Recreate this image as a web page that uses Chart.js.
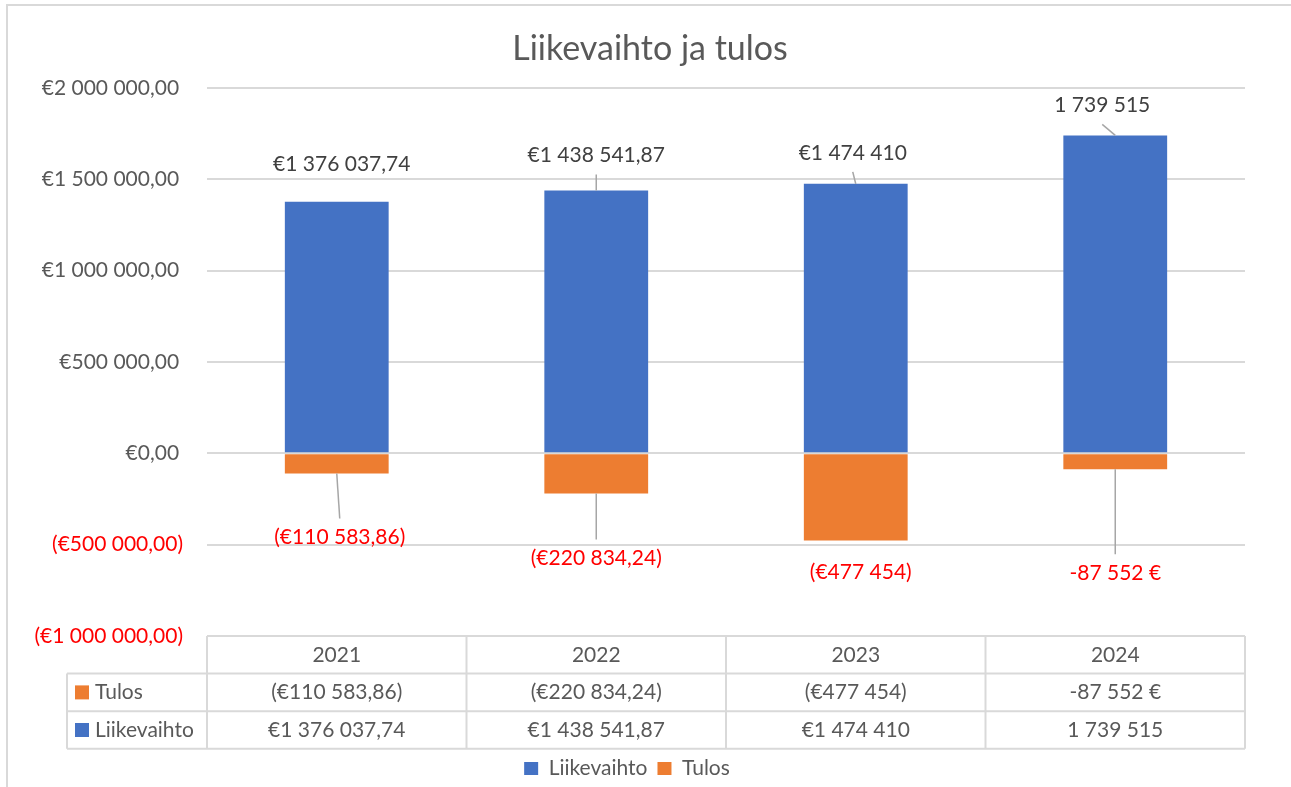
<!DOCTYPE html>
<html>
<head>
    <meta charset="utf-8">
    <title>Liikevaihto ja tulos</title>
    <style>
        html, body { margin: 0; padding: 0; background: #fff; }
    </style>
</head>
<body>

<canvas id="chart" width="1291" height="787"></canvas>

<script src="https://cdn.jsdelivr.net/npm/chart.js@4/dist/chart.umd.min.js"></script>
<script>
var years = ['2021', '2022', '2023', '2024'];
var liikevaihto = [1376037.74, 1438541.87, 1474410, 1739515];
var tulos = [-110583.86, -220834.24, -477454, -87552];
// the cells are formatted differently in the source sheet
// eur2 = €1 234,56   eur0 = €1 234   plain = 1 234   suffix = -1 234 €
var liikevaihtoFmt = ['eur2', 'eur2', 'eur0', 'plain'];
var tulosFmt = ['eur2', 'eur2', 'eur0', 'suffix'];
var yMin = -1000000, yMax = 2000000, yStep = 500000;

var BLUE = '#4472C4', ORANGE = '#ED7D31', GRID = '#D9D9D9', TXT = '#595959', RED = '#FF0000';
var FONT = 'Lato', FS = 21;

function groups(n, dec) {
    var parts = Math.abs(n).toFixed(dec).split('.');
    var whole = parts[0].replace(/\B(?=(\d{3})+(?!\d))/g, ' ');
    return parts[1] ? whole + ',' + parts[1] : whole;
}
function fmt(v, kind) {
    if (kind == 'plain') return (v < 0 ? '-' : '') + groups(v, 0);
    if (kind == 'suffix') return (v < 0 ? '-' : '') + groups(v, 0) + ' €';
    var s = '€' + groups(v, kind == 'eur2' ? 2 : 0);
    return v < 0 ? '(' + s + ')' : s;
}

// label placement (dx, dy from the bar end) and whether a leader line is drawn
var labelPos = [
    { fmt: liikevaihtoFmt, color: '#404040', off: [[5, -38], [0, -35], [-3, -31], [-13, -30]], line: [false, true, true, true] },
    { fmt: tulosFmt, color: RED, off: [[3, 64], [0, 65], [5, 32], [0, 104]], line: [true, true, false, true] }
];

var frame = {
    id: 'frame',
    afterLayout: function(chart) {
        // excel puts the legend a bit left of the title centre
        chart.legend.left -= 23;
        chart.legend.right -= 23;
        chart.legend.top += 2;
    },
    beforeDraw: function(chart) {
        // y tick labels are wider than the axis box, don't clip them
        chart.scales.y._computeLabelArea = function() { return undefined; };
        var ctx = chart.ctx;
        ctx.save();
        ctx.strokeStyle = GRID;
        ctx.lineWidth = 2;
        ctx.strokeRect(7, 5, 1320, 820);
        ctx.restore();
    }
};

var barLabels = {
    id: 'barLabels',
    afterDatasetsDraw: function(chart) {
        var ctx = chart.ctx;
        ctx.save();
        ctx.font = FS + 'px ' + FONT;
        ctx.textAlign = 'center';
        ctx.textBaseline = 'middle';
        chart.data.datasets.forEach(function(ds, d) {
            var meta = chart.getDatasetMeta(d), p = labelPos[d];
            meta.data.forEach(function(bar, i) {
                var v = ds.data[i];
                var lx = bar.x + p.off[i][0], ly = bar.y + p.off[i][1];
                if (p.line[i]) {
                    var edge = v < 0 ? ly - 19 : ly + 19;
                    ctx.strokeStyle = '#A6A6A6';
                    ctx.lineWidth = 1.5;
                    ctx.beginPath();
                    ctx.moveTo(bar.x, bar.y);
                    ctx.lineTo(lx, edge);
                    ctx.stroke();
                }
                ctx.fillStyle = p.color;
                ctx.fillText(fmt(v, p.fmt[i]), lx, ly);
            });
        });
        ctx.restore();
    }
};

var dataTable = {
    id: 'dataTable',
    afterDraw: function(chart) {
        var ctx = chart.ctx, a = chart.chartArea;
        var colW = (a.right - a.left) / years.length;
        var rowH = 37.6, keyLeft = 67;
        var y0 = a.bottom, y1 = y0 + rowH, y2 = y1 + rowH, y3 = y2 + rowH;
        ctx.save();
        ctx.strokeStyle = GRID;
        ctx.lineWidth = 2;
        ctx.beginPath();
        ctx.moveTo(a.left, y0); ctx.lineTo(a.right, y0);
        [y1, y2, y3].forEach(function(y) { ctx.moveTo(keyLeft, y); ctx.lineTo(a.right, y); });
        ctx.moveTo(keyLeft, y1); ctx.lineTo(keyLeft, y3);
        for (var c = 0; c <= years.length; c++) {
            ctx.moveTo(a.left + c * colW, y0);
            ctx.lineTo(a.left + c * colW, y3);
        }
        ctx.stroke();

        ctx.font = FS + 'px ' + FONT;
        ctx.textBaseline = 'middle';
        var rows = [
            { name: 'Tulos', color: ORANGE, vals: tulos, f: tulosFmt },
            { name: 'Liikevaihto', color: BLUE, vals: liikevaihto, f: liikevaihtoFmt }
        ];
        ctx.textAlign = 'center';
        ctx.fillStyle = TXT;
        years.forEach(function(yr, i) {
            var cx = chart.scales.x.getPixelForValue(i);
            ctx.fillText(yr, cx, (y0 + y1) / 2);
            rows.forEach(function(r, k) {
                ctx.fillText(fmt(r.vals[i], r.f[i]), cx, y1 + rowH * k + rowH / 2);
            });
        });
        ctx.textAlign = 'left';
        rows.forEach(function(r, k) {
            var cy = y1 + rowH * k + rowH / 2;
            ctx.fillStyle = r.color;
            ctx.fillRect(75, cy - 7, 14, 14);
            ctx.fillStyle = TXT;
            ctx.fillText(r.name, 95, cy);
        });
        ctx.restore();
    }
};

var chart = new Chart(document.getElementById('chart'), {
    type: 'bar',
    data: {
        labels: years,
        datasets: [
            { label: 'Liikevaihto', data: liikevaihto, backgroundColor: BLUE, borderWidth: 0 },
            { label: 'Tulos', data: tulos, backgroundColor: ORANGE, borderWidth: 0 }
        ]
    },
    options: {
        responsive: false,
        animation: false,
        datasets: { bar: { categoryPercentage: 1, barPercentage: 0.4 } },
        layout: { padding: { left: 55, right: 46, top: 0, bottom: 0 } },
        plugins: {
            title: {
                display: true,
                text: 'Liikevaihto ja tulos',
                color: TXT,
                font: { family: FONT, size: 34, weight: 'normal' },
                padding: { top: 29, bottom: 18 }
            },
            legend: {
                position: 'bottom',
                labels: {
                    color: TXT,
                    font: { family: FONT, size: FS },
                    boxWidth: 14,
                    boxHeight: 13,
                    padding: 10
                }
            },
            tooltip: { enabled: false }
        },
        scales: {
            x: {
                stacked: true,
                grid: { display: false },
                border: { display: false },
                ticks: { display: false },
                afterFit: function(s) { s.height = 110; }
            },
            y: {
                stacked: true,
                min: yMin,
                max: yMax,
                border: { display: false },
                grid: { color: GRID, lineWidth: 2, drawTicks: false },
                ticks: {
                    stepSize: yStep,
                    padding: 24,
                    font: { family: FONT, size: FS },
                    color: function(c) { return c.tick && c.tick.value < 0 ? RED : TXT; },
                    callback: function(v) { return fmt(v, 'eur2') + (v >= 0 ? '\u2009\u200A' : ''); }
                },
                afterFit: function(s) { s.width = 152; }
            }
        }
    },
    plugins: [frame, barLabels, dataTable]
});
</script>
</body>
</html>
